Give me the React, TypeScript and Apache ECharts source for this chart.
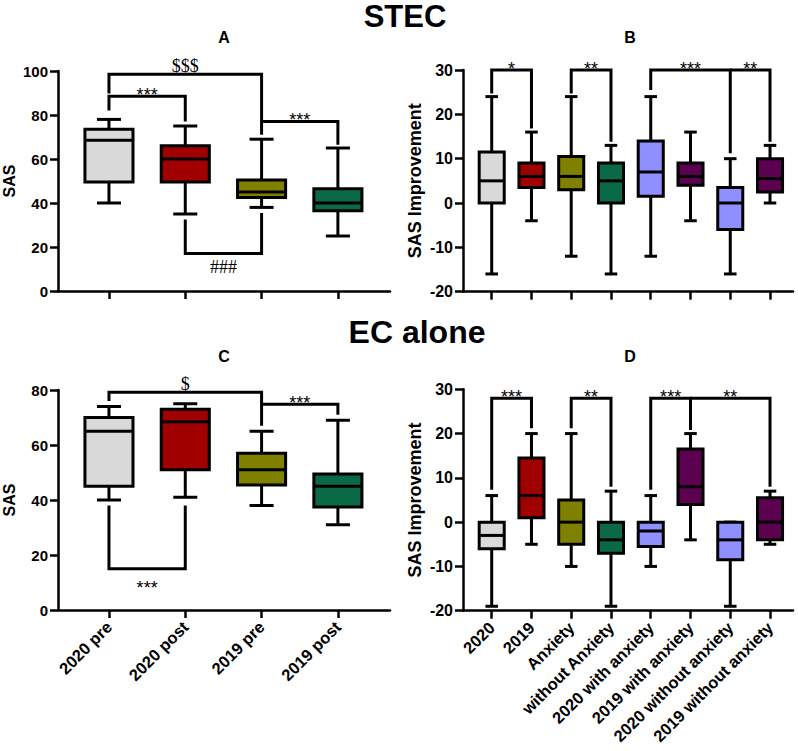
import React, { useEffect, useRef } from 'react';
import * as echarts from 'echarts';

// ---------- data ----------
const catsAC = ['2020 pre', '2020 post', '2019 pre', '2019 post'];
const catsBD = ['2020', '2019', 'Anxiety', 'without Anxiety', '2020 with anxiety', '2019 with anxiety', '2020 without anxiety', '2019 without anxiety'];

// [min, Q1, median, Q3, max]
const boxesA = [
  [40, 49.5, 68.5, 73.5, 78],
  [35, 49.5, 60, 66, 75],
  [38, 42.5, 45, 50.5, 69],
  [25, 36.5, 40, 46.5, 65],
];
const boxesB = [
  [-16, 0, 5, 11.5, 24],
  [-4, 3.5, 6, 9, 16],
  [-12, 3, 6, 10.5, 24],
  [-16, 0, 5, 9, 13],
  [-12, 1.5, 7, 14, 24],
  [-4, 4, 6, 9, 16],
  [-16, -6, 0, 3.5, 10],
  [0, 2.5, 5.5, 10, 13],
];
const boxesC = [
  [40, 45, 65, 70, 74],
  [41, 51, 68.5, 73, 75],
  [38, 45.5, 51, 57, 65],
  [31, 37.5, 45, 49.5, 69],
];
const boxesD = [
  [-19, -6, -3, 0, 6],
  [-5, 1, 6, 14.5, 20],
  [-10, -5, 0, 5, 20],
  [-19, -7, -4, 0, 7],
  [-10, -5.5, -2, 0, 6],
  [-4, 4, 8, 16.5, 20],
  [-19, -8.5, -4, 0, 0],
  [-5, -4, 0, 5.5, 7],
];

// significance brackets: [fromIndex, toIndex, barValue, leftLegEnd, rightLegEnd, label]
const bracketsA: [number, number, number, number, number, string][] = [
  [0, 2, 98.5, 89.8, 71, '$$$'],
  [0, 1, 88.5, 82, 77, '***'],
  [2, 3, 77, 77, 66.5, '***'],
  [1, 2, 17, 32.5, 35.5, '###'],
];
const bracketsB: [number, number, number, number, number, string][] = [
  [0, 1, 30, 24.7, 16.8, '*'],
  [2, 3, 30, 24.7, 13.8, '**'],
  [4, 6, 30, 25.5, 11.2, '***'],
  [6, 7, 30, 30, 13.8, '**'],
];
const bracketsC: [number, number, number, number, number, string][] = [
  [0, 2, 79.2, 76, 67, '$'],
  [2, 3, 74.8, 74.8, 71, '***'],
  [0, 1, 15, 38, 38, '***'],
];
const bracketsD: [number, number, number, number, number, string][] = [
  [0, 1, 28, 7.3, 21.2, '***'],
  [2, 3, 28, 21.2, 8, '**'],
  [4, 5, 28, 7.3, 20.8, '***'],
  [5, 7, 28, 28, 8, '**'],
];

// ---------- styles ----------
const colorsAC = ['#d9d9d9', '#a00000', '#808000', '#0a6a46'];
const colorsBD = ['#d9d9d9', '#a00000', '#808000', '#0a6a46', '#8f8fff', '#5c0050', '#8f8fff', '#5c0050'];
const FONT = "'Liberation Sans', Arial, Helvetica, sans-serif";
const SERIF = "'Liberation Serif', 'Times New Roman', serif";
const LW = 3;
const AXW = 2.5;
const BOX_RATIO = 0.63;
const CAP_RATIO = 0.5;

type Panel = {
  cats: string[];
  boxes: number[][];
  colors: string[];
  brackets: [number, number, number, number, number, string][];
  yMin: number; yMax: number; yStep: number;
  yName: string; nameSize: number; nameGap: number; tickSize: number;
  grid: { left: number; top: number; width: number; height: number };
  xMin: number; xMax: number;
  showXLabels: boolean;
};

const panels: Panel[] = [
  { cats: catsAC, boxes: boxesA, colors: colorsAC, brackets: bracketsA, yMin: 0, yMax: 100, yStep: 20, yName: 'SAS', nameSize: 16, nameGap: 41, tickSize: 15,
    grid: { left: 58, top: 71, width: 332, height: 220 }, xMin: -0.668, xMax: 3.683, showXLabels: false },
  { cats: catsBD, boxes: boxesB, colors: colorsBD, brackets: bracketsB, yMin: -20, yMax: 30, yStep: 10, yName: 'SAS Improvement', nameSize: 18, nameGap: 39, tickSize: 16,
    grid: { left: 463, top: 70, width: 330, height: 221.7 }, xMin: -0.722, xMax: 7.578, showXLabels: false },
  { cats: catsAC, boxes: boxesC, colors: colorsAC, brackets: bracketsC, yMin: 0, yMax: 80, yStep: 20, yName: 'SAS', nameSize: 16, nameGap: 41, tickSize: 15,
    grid: { left: 58, top: 390, width: 332, height: 220 }, xMin: -0.668, xMax: 3.683, showXLabels: true },
  { cats: catsBD, boxes: boxesD, colors: colorsBD, brackets: bracketsD, yMin: -20, yMax: 30, yStep: 10, yName: 'SAS Improvement', nameSize: 18, nameGap: 39, tickSize: 16,
    grid: { left: 463, top: 389.3, width: 330, height: 221.4 }, xMin: -0.722, xMax: 7.578, showXLabels: true },
];

const titleText = (text: string, x: number, y: number, size: number) => ({
  type: 'text', x, y, silent: true,
  style: {
    text, fill: '#000', font: `bold ${size}px ${FONT}`,
    textAlign: 'center', textVerticalAlign: 'middle', align: 'center', verticalAlign: 'middle',
  },
});

function buildOption() {
  const grid: any[] = [];
  const xAxis: any[] = [];
  const yAxis: any[] = [];
  const series: any[] = [];

  panels.forEach((p, k) => {
    grid.push({ ...p.grid, containLabel: false });
    const idx = p.cats.map((_, i) => i);
    xAxis.push({
      type: 'value', gridIndex: k, min: p.xMin, max: p.xMax,
      splitLine: { show: false },
      axisLine: { show: true, onZero: false, lineStyle: { color: '#000', width: AXW } },
      axisTick: { show: true, length: 8, inside: false, customValues: idx, lineStyle: { color: '#000', width: AXW } },
      axisLabel: {
        show: p.showXLabels, customValues: idx, rotate: 45, margin: 14,
        color: '#000', fontWeight: 'bold', fontSize: 16.5, fontFamily: FONT,
        formatter: (v: number) => p.cats[Math.round(v)] ?? '',
      },
    });
    yAxis.push({
      type: 'value', gridIndex: k, min: p.yMin, max: p.yMax, interval: p.yStep,
      name: p.yName, nameLocation: 'middle', nameGap: p.nameGap, nameRotate: 90,
      nameTextStyle: { color: '#000', fontWeight: 'bold', fontSize: p.nameSize, fontFamily: FONT },
      splitLine: { show: false },
      axisLine: { show: true, onZero: false, lineStyle: { color: '#000', width: AXW } },
      axisTick: { show: true, length: 8, inside: false, lineStyle: { color: '#000', width: AXW } },
      axisLabel: { margin: 10, color: '#000', fontWeight: 'bold', fontSize: p.tickSize, fontFamily: FONT },
    });

    const colors = p.colors;
    series.push({
      type: 'custom', xAxisIndex: k, yAxisIndex: k,
      encode: { x: 0, y: [1, 2, 3, 4, 5] },
      data: p.boxes.map((b, i) => [i, ...b]),
      renderItem: (params: any, api: any) => {
        const i = api.value(0);
        const v = [1, 2, 3, 4, 5].map((d) => api.value(d));
        const band = api.size([1, 0])[0];
        const bw = band * BOX_RATIO;
        const cw = bw * CAP_RATIO;
        const cx = api.coord([i, v[2]])[0];
        const y = v.map((val: number) => api.coord([i, val])[1]);
        const ls = { stroke: '#000', lineWidth: LW };
        return {
          type: 'group',
          children: [
            { type: 'line', shape: { x1: cx, y1: y[0], x2: cx, y2: y[1] }, style: ls },
            { type: 'line', shape: { x1: cx, y1: y[3], x2: cx, y2: y[4] }, style: ls },
            { type: 'line', shape: { x1: cx - cw / 2, y1: y[0], x2: cx + cw / 2, y2: y[0] }, style: ls },
            { type: 'line', shape: { x1: cx - cw / 2, y1: y[4], x2: cx + cw / 2, y2: y[4] }, style: ls },
            { type: 'rect', shape: { x: cx - bw / 2, y: y[3], width: bw, height: y[1] - y[3] },
              style: { fill: colors[params.dataIndex], stroke: '#000', lineWidth: LW } },
            { type: 'line', shape: { x1: cx - bw / 2, y1: y[2], x2: cx + bw / 2, y2: y[2] }, style: ls },
          ],
        };
      },
      z: 2,
    });

    const brs = p.brackets;
    series.push({
      type: 'custom', xAxisIndex: k, yAxisIndex: k,
      encode: { x: 0, y: 2 },
      data: brs.map((b) => b.slice(0, 5)),
      renderItem: (params: any, api: any) => {
        const [from, to, ly, l, r] = [0, 1, 2, 3, 4].map((d) => api.value(d));
        const label = brs[params.dataIndex][5];
        const p1 = api.coord([from, l]);
        const p2 = api.coord([from, ly]);
        const p3 = api.coord([to, ly]);
        const p4 = api.coord([to, r]);
        const above = ly >= Math.max(l, r);
        const isStar = label.startsWith('*');
        const dy = above ? (isStar ? -1.5 : -8) : (isStar ? 19 : 13.5);
        return {
          type: 'group',
          children: [
            { type: 'polyline', shape: { points: [p1, p2, p3, p4] }, style: { stroke: '#000', lineWidth: LW, fill: 'none' } },
            { type: 'text', x: (p2[0] + p3[0]) / 2, y: p2[1] + dy,
              style: { text: label, fill: '#000', font: isStar ? `18px ${FONT}` : `18px ${SERIF}`,
                textAlign: 'center', textVerticalAlign: 'middle', align: 'center', verticalAlign: 'middle' } },
          ],
        };
      },
      z: 3,
    });
  });

  return {
    animation: false,
    backgroundColor: '#fff',
    grid, xAxis, yAxis, series,
    graphic: [
      titleText('STEC', 405, 16, 31),
      titleText('EC alone', 417, 332, 32),
      titleText('A', 224, 37, 16),
      titleText('B', 630, 37, 16),
      titleText('C', 224, 356, 16),
      titleText('D', 630, 356, 16),
    ],
  };
}

export default function App() {
  const ref = useRef<HTMLDivElement>(null);
  useEffect(() => {
    if (!ref.current) return;
    const chart = echarts.init(ref.current, undefined, { renderer: 'svg' });
    chart.setOption(buildOption() as any);
    return () => chart.dispose();
  }, []);
  return (
    <div
      ref={ref}
      style={{ position: 'absolute', left: 0, top: 0, width: 798, height: 751, background: '#fff' }}
    />
  );
}
